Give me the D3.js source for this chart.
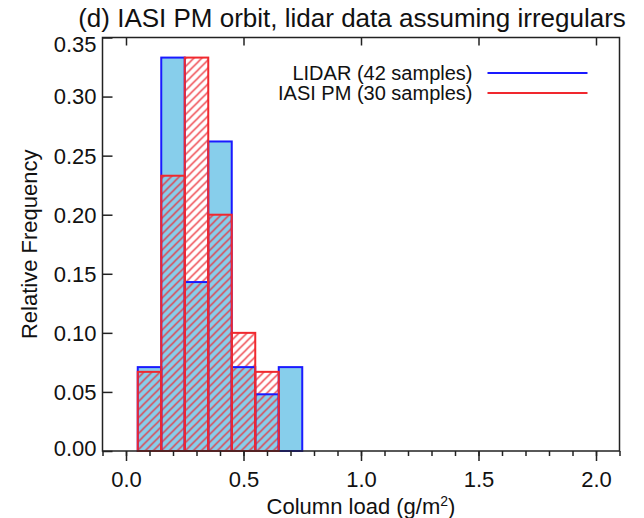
<!DOCTYPE html>
<html>
<head>
<meta charset="utf-8">
<script src="https://cdn.jsdelivr.net/npm/d3@7"></script>
<style>
  body { margin: 0; background: #fff; }
  text { font-family: "Liberation Sans", Arial, Helvetica, sans-serif; fill: #111; }
</style>
</head>
<body>
<div id="chart"></div>
<script>
// Histogramme : fréquence relative de la charge en colonne

const binCenters = [0.0, 0.1, 0.2, 0.3, 0.4, 0.5, 0.6, 0.7];
const lidarFreq  = [0, 0.071, 0.333, 0.143, 0.262, 0.071, 0.048, 0.071];
const iasiFreq   = [0, 0.067, 0.233, 0.333, 0.200, 0.100, 0.067, null];
const binWidth = 0.1;

const xTicks = [0.0, 0.5, 1.0, 1.5, 2.0];
const xMinorTicks = d3.range(-0.1, 2.1001, 0.1);
const yTicks = [0.00, 0.05, 0.10, 0.15, 0.20, 0.25, 0.30, 0.35];

const legendItems = [
    { label: 'LIDAR (42 samples)', color: '#1a1aff' },
    { label: 'IASI PM (30 samples)', color: '#f0282e' }
];

const W = 644, H = 518;
const margin = { top: 37.5, right: 24.5, bottom: 67, left: 102.5 };
const width = W - margin.left - margin.right;
const height = H - margin.top - margin.bottom;

const svg = d3.select('#chart').append('svg')
    .attr('width', W)
    .attr('height', H);

// motif hachuré
const defs = svg.append('defs');
defs.append('pattern')
    .attr('id', 'hatch')
    .attr('patternUnits', 'userSpaceOnUse')
    .attr('width', 8)
    .attr('height', 8)
    .append('path')
    .attr('d', 'M0,8 L8,0 M-1,1 L1,-1 M7,9 L9,7')
    .attr('stroke', '#ec2c34')
    .attr('stroke-width', 1.25);

const g = svg.append('g')
    .attr('transform', `translate(${margin.left},${margin.top})`);

const x = d3.scaleLinear().domain([-0.1, 2.1]).range([0, width]);
const y = d3.scaleLinear().domain([0, 0.35]).range([height, 0]);

const lidar = binCenters.map((c, i) => ({ c, v: lidarFreq[i] }));
const iasi = binCenters.map((c, i) => ({ c, v: iasiFreq[i] })).filter(d => d.v !== null);

const rectAttrs = sel => sel
    .attr('x', d => x(d.c - binWidth / 2))
    .attr('width', d => x(d.c + binWidth / 2) - x(d.c - binWidth / 2))
    .attr('y', d => y(d.v))
    .attr('height', d => y(0) - y(d.v));

// remplissage LIDAR
g.selectAll('.lidar-fill').data(lidar).join('rect')
    .attr('class', 'lidar-fill')
    .call(rectAttrs)
    .attr('fill', '#87ceeb');

// hachures IASI
g.selectAll('.iasi-fill').data(iasi).join('rect')
    .attr('class', 'iasi-fill')
    .call(rectAttrs)
    .attr('fill', 'url(#hatch)');

// contours
g.selectAll('.lidar-line').data(lidar).join('rect')
    .attr('class', 'lidar-line')
    .call(rectAttrs)
    .attr('fill', 'none')
    .attr('stroke', legendItems[0].color)
    .attr('stroke-width', 2);

g.selectAll('.iasi-line').data(iasi).join('rect')
    .attr('class', 'iasi-line')
    .call(rectAttrs)
    .attr('fill', 'none')
    .attr('stroke', legendItems[1].color)
    .attr('stroke-width', 2);

// cadre
g.append('rect')
    .attr('width', width)
    .attr('height', height)
    .attr('fill', 'none')
    .attr('stroke', '#222')
    .attr('stroke-width', 1.5);

// axe x (bas) : graduations vers l'extérieur
const xAxis = g.append('g').attr('transform', `translate(0,${height})`);
xAxis.call(d3.axisBottom(x).tickValues(xMinorTicks).tickSize(5).tickFormat(''))
    .call(a => a.select('.domain').remove());
xAxis.append('g')
    .call(d3.axisBottom(x).tickValues(xTicks).tickSize(10).tickPadding(10).tickFormat(d3.format('.1f')))
    .call(a => a.select('.domain').remove());
xAxis.selectAll('line').attr('stroke', '#222').attr('stroke-width', 1.5);
xAxis.selectAll('text').style('font-size', '22px').attr('fill', '#111');

// axe x (haut) : graduations vers l'intérieur
g.append('g')
    .call(d3.axisBottom(x).tickValues(xTicks).tickSize(8).tickFormat(''))
    .call(a => a.select('.domain').remove())
    .selectAll('line').attr('stroke', '#222').attr('stroke-width', 1.5);

// axe y : graduations vers l'intérieur
const yAxis = g.append('g')
    .call(d3.axisRight(y).tickValues(yTicks).tickSize(10).tickFormat(''))
    .call(a => a.select('.domain').remove());
yAxis.selectAll('line').attr('stroke', '#222').attr('stroke-width', 1.5);

g.selectAll('.ylab').data(yTicks).join('text')
    .attr('class', 'ylab')
    .attr('x', -6)
    .attr('y', d => Math.min(Math.max(y(d), 7), height - 3))
    .attr('dy', '0.36em')
    .attr('text-anchor', 'end')
    .style('font-size', '22px')
    .text(d3.format('.2f'));

// titres
svg.append('text')
    .attr('x', 352)
    .attr('y', 27)
    .attr('text-anchor', 'middle')
    .style('font-size', '26px')
    .text('(d) IASI PM orbit, lidar data assuming irregulars');

const xt = svg.append('text')
    .attr('x', margin.left + width / 2)
    .attr('y', 514)
    .attr('text-anchor', 'middle')
    .style('font-size', '22px');
xt.append('tspan').text('Column load (g/m');
xt.append('tspan').attr('dy', -8).style('font-size', '14px').text('2');
xt.append('tspan').attr('dy', 8).text(')');

svg.append('text')
    .attr('transform', `translate(37,${margin.top + height / 2}) rotate(-90)`)
    .attr('text-anchor', 'middle')
    .style('font-size', '22px')
    .text('Relative Frequency');

// légende
const legend = g.append('g');
legendItems.forEach((d, i) => {
    const ly = 35.5 + i * 20;
    legend.append('text')
        .attr('x', 370)
        .attr('y', ly)
        .attr('dy', '0.35em')
        .attr('text-anchor', 'end')
        .style('font-size', '20px')
        .text(d.label);
    legend.append('line')
        .attr('x1', 385).attr('x2', 485)
        .attr('y1', ly).attr('y2', ly)
        .attr('stroke', d.color)
        .attr('stroke-width', 2);
});
</script>
</body>
</html>
